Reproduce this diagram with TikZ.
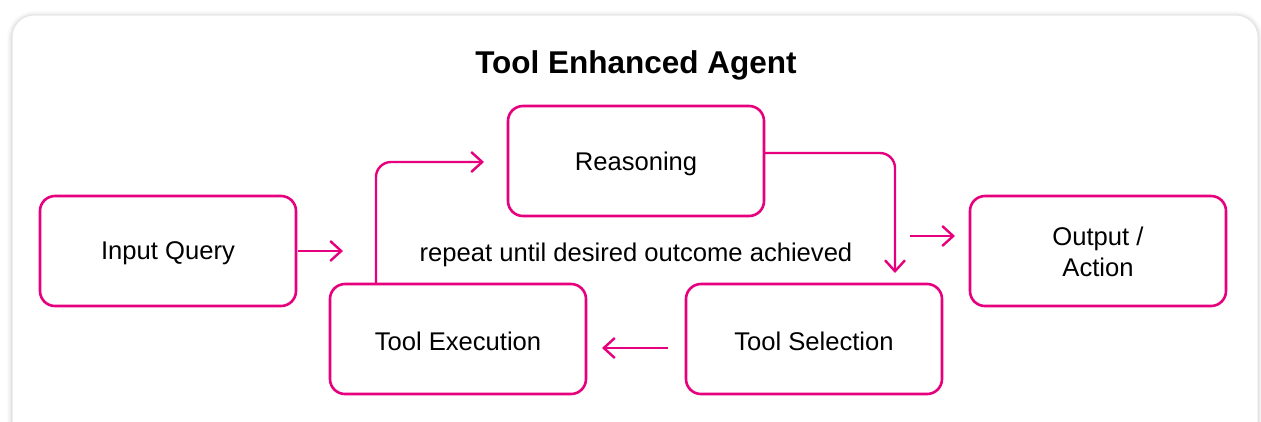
\documentclass[tikz,border=0pt]{standalone}
\usepackage{fontspec}
\setmainfont{Liberation Sans}
\usetikzlibrary{arrows.meta,shadows.blur}
\definecolor{mag}{HTML}{E6007E}
\tikzset{
  box/.style={draw=mag, line width=2.6pt, rounded corners=15pt, minimum width=256pt, minimum height=110pt, fill=white},
  txt/.style={align=center, font=\fontsize{25.6}{31}\selectfont},
  conn/.style={draw=mag, line width=2.4pt, -{Straight Barb[length=11pt,width=20pt,line width=2.4pt]}},
  lbl/.style={font=\fontsize{25.6}{28}\selectfont},
  frame/.style={draw=black!10, line width=1pt, fill=white, rounded corners=22pt, blur shadow={shadow xshift=0pt, shadow yshift=-1pt, shadow blur radius=5pt, shadow opacity=25}}
}
\begin{document}
\begin{tikzpicture}[x=1pt,y=-1pt]
\useasboundingbox (0,0) rectangle (1261,421);
\path[frame] (12,15) rectangle (1258,445);
\node[font=\fontsize{31.5}{34}\selectfont\bfseries] (title) at (636,65) {Tool Enhanced Agent};
\node[box] (inp) at (168,251) {};
\node[box] (rea) at (636,161) {};
\node[box] (out) at (1098,251) {};
\node[box] (exe) at (458,339) {};
\node[box] (sel) at (814,339) {};
\node[txt] (inpt) at ([yshift=-2.5]inp.center) {Input Query};
\node[txt] (reat) at ([yshift=-2.5]rea.center) {Reasoning};
\node[txt] (outt) at ([yshift=-1]out.center) {Output /\\Action};
\node[txt] (exet) at ([yshift=-2.5]exe.center) {Tool Execution};
\node[txt] (selt) at ([yshift=-2.5]sel.center) {Tool Selection};
\node[lbl] (rep) at (636,255) {repeat until desired outcome achieved};
\coordinate (a1s) at (298,251);
\coordinate (a1e) at (343,251);
\coordinate (lps) at (376,283);
\coordinate (lpe) at (484,162);
\coordinate (rds) at (764,153);
\coordinate (rde) at (895,273);
\coordinate (o1s) at (910,236);
\coordinate (o1e) at (955,236);
\coordinate (s1s) at (668,348);
\coordinate (s1e) at (602,348);
\draw[conn] (a1s) -- (a1e);
\draw[conn, rounded corners=15pt] (lps) |- (lpe);
\draw[conn, rounded corners=15pt] (rds) -| (rde);
\draw[conn] (o1s) -- (o1e);
\draw[conn] (s1s) -- (s1e);
\end{tikzpicture}
\end{document}
